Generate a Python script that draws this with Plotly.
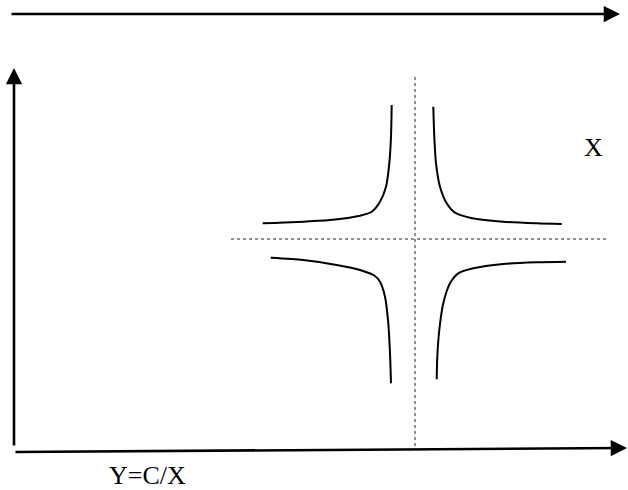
import plotly.graph_objects as go

# Hyperbola branches (Y = C/X), origin at the dotted cross
ur_x = [18.3, 19.3, 21.0, 25.0, 31.7, 40.0, 55.0, 88.3, 121.7, 146.7]
ur_y = [132.3, 102.3, 75.7, 52.3, 35.7, 26.3, 21.3, 17.3, 15.7, 15.0]

ul_x = [-23.3, -24.0, -25.7, -29.0, -35.0, -43.3, -55.0, -85.0, -118.3, -152.3]
ul_y = [134.0, 102.3, 75.7, 52.3, 37.3, 27.3, 23.3, 19.0, 17.0, 15.7]

ll_x = [-144.3, -111.7, -78.3, -55.0, -40.0, -35.0, -30.0, -26.7, -25.0, -24.0]
ll_y = [-18.7, -21.0, -26.0, -31.0, -37.0, -42.7, -57.7, -84.3, -114.3, -144.3]

lr_x = [151.0, 121.7, 88.3, 58.3, 43.3, 35.0, 28.3, 24.3, 22.3, 21.7]
lr_y = [-22.7, -23.3, -25.0, -29.3, -34.3, -44.3, -64.3, -91.0, -117.7, -140.3]

# Dotted asymptotes
vline_x = [0, 0]
vline_y = [162, -208]
hline_x = [-184, 194]
hline_y = [0, 0]

# Arrows: (tail_x, tail_y, head_x, head_y)
arrows = [
    (-405, 225, 205, 225),   # top arrow
    (-401, -208, -401, 171), # left vertical arrow
    (-401, -213, 212, -209), # bottom arrow
]

labels = ["X", "Y=C/X"]
label_x = [178, -268]
label_y = [92, -236]
label_size = [26, 26]

fig = go.Figure()
for xs, ys in [(ul_x, ul_y), (ur_x, ur_y), (ll_x, ll_y), (lr_x, lr_y)]:
    fig.add_trace(go.Scatter(x=xs, y=ys, mode="lines",
                             line=dict(color="black", width=2, shape="spline", smoothing=0.7),
                             hoverinfo="skip", showlegend=False))

fig.add_trace(go.Scatter(x=vline_x, y=vline_y, mode="lines",
                         line=dict(color="#222222", width=1, dash="dot"),
                         hoverinfo="skip", showlegend=False))
fig.add_trace(go.Scatter(x=hline_x, y=hline_y, mode="lines",
                         line=dict(color="#222222", width=1, dash="dot"),
                         hoverinfo="skip", showlegend=False))

for tx, ty, hx, hy in arrows:
    fig.add_annotation(x=hx, y=hy, ax=tx, ay=ty, xref="x", yref="y",
                       axref="x", ayref="y", text="", showarrow=True,
                       arrowhead=2, arrowsize=1.25, arrowwidth=2.6,
                       arrowcolor="black", standoff=0, startstandoff=0)

for t, lx, ly, fs in zip(labels, label_x, label_y, label_size):
    fig.add_annotation(x=lx, y=ly, xref="x", yref="y", text=t, showarrow=False,
                       font=dict(family="Liberation Serif, Times New Roman, serif",
                                 size=fs, color="black"))

fig.update_layout(
    width=628, height=490,
    margin=dict(l=0, r=0, t=0, b=0),
    plot_bgcolor="white", paper_bgcolor="white",
    xaxis=dict(range=[-415, 213], visible=False, fixedrange=True),
    yaxis=dict(range=[-251, 239], visible=False, fixedrange=True),
)

fig.write_html("out.html", config={"displayModeBar": False},
               post_script="document.body.style.margin='0';document.body.style.overflow='hidden';")
